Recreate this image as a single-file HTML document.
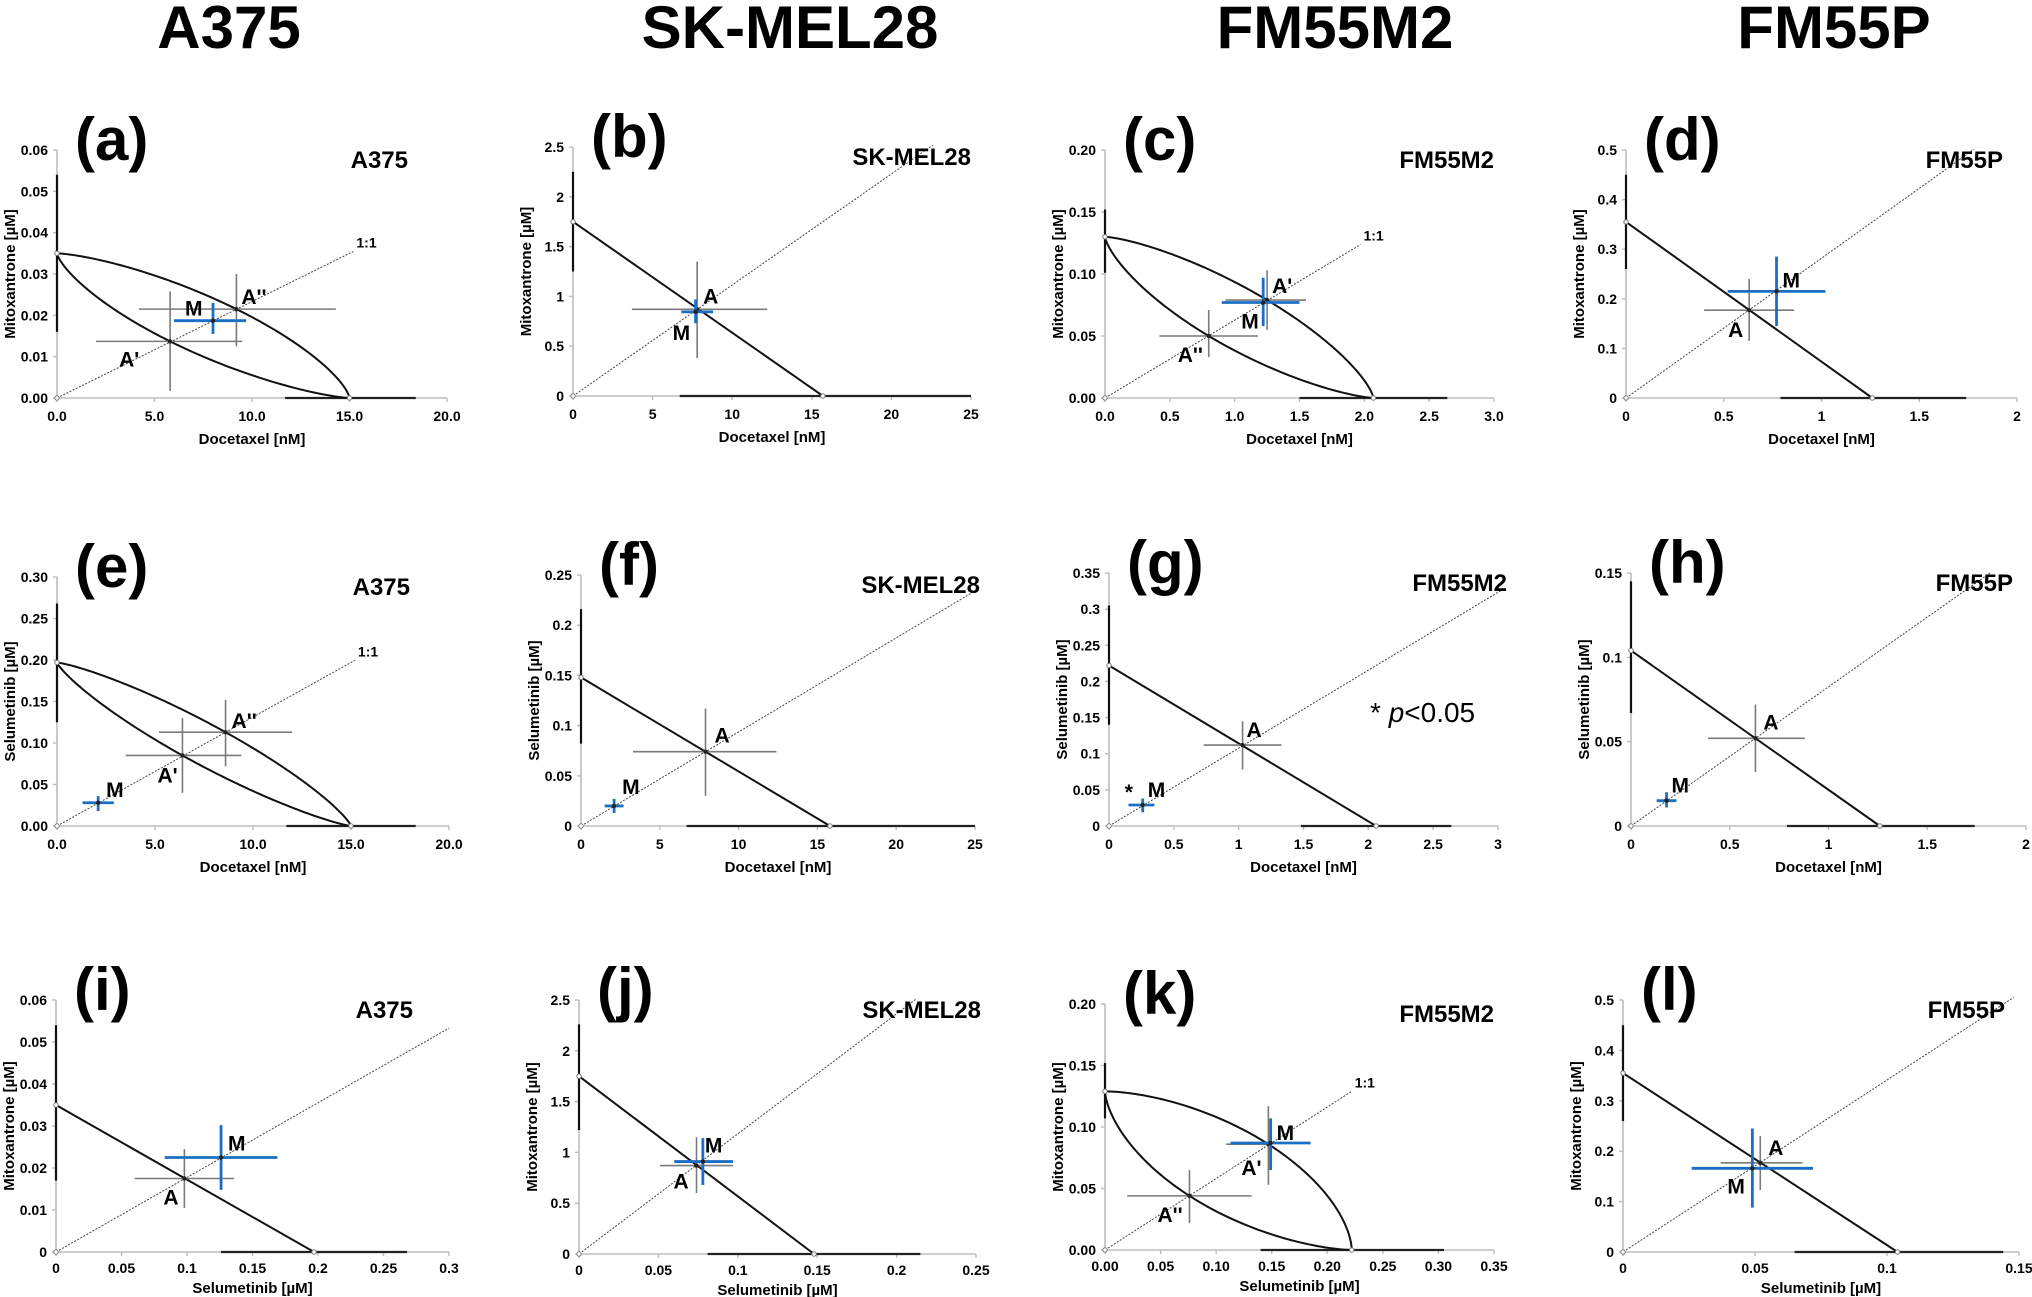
<!DOCTYPE html>
<html><head><meta charset="utf-8">
<style>
html,body{margin:0;padding:0;background:#fff;}
svg{display:block;font-family:"Liberation Sans",Arial,sans-serif;}
</style></head>
<body>
<svg id="fig" width="2032" height="1297" viewBox="0 0 2032 1297" xmlns="http://www.w3.org/2000/svg">
<rect width="2032" height="1297" fill="#fff"/>
<text x="229" y="48" font-size="60" font-weight="bold" text-anchor="middle">A375</text>
<text x="790" y="48" font-size="60" font-weight="bold" text-anchor="middle">SK-MEL28</text>
<text x="1335" y="48" font-size="60" font-weight="bold" text-anchor="middle">FM55M2</text>
<text x="1834" y="48" font-size="60" font-weight="bold" text-anchor="middle">FM55P</text>
</svg>
<script>
// ---- data ----
const panelLetters = ['a','b','c','d','e','f','g','h','i','j','k','l'];
const cellLines = ['A375','SK-MEL28','FM55M2','FM55P','A375','SK-MEL28','FM55M2','FM55P','A375','SK-MEL28','FM55M2','FM55P'];
const xTitles = ['Docetaxel [nM]','Docetaxel [nM]','Docetaxel [nM]','Docetaxel [nM]','Docetaxel [nM]','Docetaxel [nM]','Docetaxel [nM]','Docetaxel [nM]','Selumetinib [µM]','Selumetinib [µM]','Selumetinib [µM]','Selumetinib [µM]'];
const yTitles = ['Mitoxantrone [µM]','Mitoxantrone [µM]','Mitoxantrone [µM]','Mitoxantrone [µM]','Selumetinib [µM]','Selumetinib [µM]','Selumetinib [µM]','Selumetinib [µM]','Mitoxantrone [µM]','Mitoxantrone [µM]','Mitoxantrone [µM]','Mitoxantrone [µM]'];
const xTicks = [
 [0,5,10,15,20],[0,5,10,15,20,25],[0,0.5,1,1.5,2,2.5,3],[0,0.5,1,1.5,2],
 [0,5,10,15,20],[0,5,10,15,20,25],[0,0.5,1,1.5,2,2.5,3],[0,0.5,1,1.5,2],
 [0,0.05,0.1,0.15,0.2,0.25,0.3],[0,0.05,0.1,0.15,0.2,0.25],[0,0.05,0.1,0.15,0.2,0.25,0.3,0.35],[0,0.05,0.1,0.15]];
const xTickLabels = [
 ['0.0','5.0','10.0','15.0','20.0'],['0','5','10','15','20','25'],['0.0','0.5','1.0','1.5','2.0','2.5','3.0'],['0','0.5','1','1.5','2'],
 ['0.0','5.0','10.0','15.0','20.0'],['0','5','10','15','20','25'],['0','0.5','1','1.5','2','2.5','3'],['0','0.5','1','1.5','2'],
 ['0','0.05','0.1','0.15','0.2','0.25','0.3'],['0','0.05','0.1','0.15','0.2','0.25'],['0.00','0.05','0.10','0.15','0.20','0.25','0.30','0.35'],['0','0.05','0.1','0.15']];
const yTicks = [
 [0,0.01,0.02,0.03,0.04,0.05,0.06],[0,0.5,1,1.5,2,2.5],[0,0.05,0.1,0.15,0.2],[0,0.1,0.2,0.3,0.4,0.5],
 [0,0.05,0.1,0.15,0.2,0.25,0.3],[0,0.05,0.1,0.15,0.2,0.25],[0,0.05,0.1,0.15,0.2,0.25,0.3,0.35],[0,0.05,0.1,0.15],
 [0,0.01,0.02,0.03,0.04,0.05,0.06],[0,0.5,1,1.5,2,2.5],[0,0.05,0.1,0.15,0.2],[0,0.1,0.2,0.3,0.4,0.5]];
const yTickLabels = [
 ['0.00','0.01','0.02','0.03','0.04','0.05','0.06'],['0','0.5','1','1.5','2','2.5'],['0.00','0.05','0.10','0.15','0.20'],['0','0.1','0.2','0.3','0.4','0.5'],
 ['0.00','0.05','0.10','0.15','0.20','0.25','0.30'],['0','0.05','0.1','0.15','0.2','0.25'],['0','0.05','0.1','0.15','0.2','0.25','0.3','0.35'],['0','0.05','0.1','0.15'],
 ['0','0.01','0.02','0.03','0.04','0.05','0.06'],['0','0.5','1','1.5','2','2.5'],['0.00','0.05','0.10','0.15','0.20'],['0','0.1','0.2','0.3','0.4','0.5']];
const yIntercepts = [0.035,1.75,0.13,0.355,0.197,0.148,0.222,0.104,0.035,1.75,0.129,0.355];
const xIntercepts = [15,15.7,2.07,1.26,15,15.8,2.06,1.26,0.197,0.148,0.222,0.104];
const isoboleKind = ['curve','line','curve','line','curve','line','line','line','line','line','curve','line'];
const diagEndX = [15.2,22.6,1.97,1.78,15.2,24.8,3.05,1.82,0.3,0.212,0.222,0.148];
const diagLabelShown = [true,false,true,false,true,false,false,false,false,false,true,false];
const ciYLo = [0.016,1.25,0.101,0.26,0.125,0.082,0.14,0.067,0.017,1.22,0.107,0.26];
const ciYHi = [0.054,2.25,0.152,0.45,0.268,0.216,0.305,0.145,0.054,2.26,0.152,0.45];
const ciXLo = [11.7,6.7,1.5,0.79,11.7,6.7,1.48,0.79,0.126,0.081,0.14,0.065];
const ciXHi = [18.4,25,2.64,1.74,18.3,25,2.64,1.74,0.268,0.215,0.305,0.144];
const pointNames = [["A''","A'","M"],["A","M"],["A'","A''","M"],["A","M"],["A''","A'","M"],["A","M"],["A","M"],["A","M"],["A","M"],["A","M"],["A'","A''","M"],["A","M"]];
const pointX = [[9.2,5.8,8.0],[7.8,7.7],[1.25,0.8,1.22],[0.63,0.77],[8.6,6.4,2.1],[7.9,2.1],[1.03,0.26],[0.63,0.18],[0.098,0.126],[0.074,0.078],[0.147,0.076,0.149],[0.052,0.049]];
const pointY = [[0.0215,0.0137,0.0187],[0.87,0.845],[0.079,0.05,0.077],[0.177,0.215],[0.113,0.085,0.028],[0.074,0.02],[0.112,0.029],[0.052,0.015],[0.0175,0.0225],[0.87,0.91],[0.086,0.044,0.087],[0.177,0.166]];
const errXLo = [[4.2,2.0,6.0],[3.7,6.8],[0.93,0.42,0.9],[0.4,0.52],[5.2,3.5,1.3],[3.3,1.5],[0.73,0.15],[0.39,0.13],[0.06,0.083],[0.051,0.06],[0.109,0.02,0.113],[0.037,0.026]];
const errXHi = [[14.3,9.5,9.7],[12.2,8.8],[1.55,1.18,1.5],[0.86,1.02],[12.0,9.4,2.9],[12.4,2.7],[1.33,0.35],[0.88,0.23],[0.136,0.169],[0.097,0.097],[0.15,0.132,0.185],[0.068,0.072]];
const errYLo = [[0.0125,0.0017,0.0155],[0.38,0.73],[0.055,0.033,0.058],[0.115,0.145],[0.072,0.04,0.018],[0.03,0.013],[0.078,0.019],[0.032,0.011],[0.0105,0.0148],[0.6,0.68],[0.053,0.022,0.065],[0.123,0.088]];
const errYHi = [[0.030,0.0258,0.023],[1.35,0.97],[0.103,0.071,0.097],[0.24,0.285],[0.152,0.13,0.036],[0.117,0.027],[0.145,0.038],[0.072,0.02],[0.0245,0.0302],[1.15,1.14],[0.117,0.065,0.107],[0.23,0.245]];

// ---- layout (pixels, not data) ----
const boxes = [[57,447,150,398],[573,971,147,396],[1105,1494,150,398],[1626,2017,150,398],
 [57,449,577,826],[581,975,575,826],[1109,1498,573,826],[1631,2026,573,826],
 [56,449,1000,1252],[579,976,1000,1254],[1105,1494,1004,1250],[1623,2019,1000,1252]];
const tickLabelGap = [23,23,23,23,23,23,23,23,21,21,21,21];
const xTitleGap = [46,46,46,46,46,46,46,46,41,41,41,41];
const cellLabelRight = [-39,0,0,-14,-39,5,9,-13,-36,5,0,-14];
const labelOffsets = [[[5,-5],[-51,25],[-28,-5]],[[6,-6],[-23,28]],[[5,-7],[-31,26],[-22,26]],[[-21,27],[6,-4]],
 [[6,-4],[-25,27],[8,-6]],[[9,-9],[8,-12]],[[4,-8],[5,-8]],[[8,-9],[5,-8]],
 [[-21,26],[7,-7]],[[-23,23],[2,-9]],[[-27,31],[-32,26],[6,-3]],[[8,-8],[-25,25]]];

const svg = document.getElementById('fig');
const NS = 'http://www.w3.org/2000/svg';
function mk(tag, attrs, parent){
  const e = document.createElementNS(NS, tag);
  for (const k in attrs) e.setAttribute(k, attrs[k]);
  (parent||svg).appendChild(e);
  return e;
}
function solveK(rx, ry){
  let lo = 0.1, hi = 8;
  for (let i=0;i<60;i++){
    const m=(lo+hi)/2;
    const f=Math.pow(rx,m)+Math.pow(ry,m)-1;
    if (f>0) lo=m; else hi=m;
  }
  return (lo+hi)/2;
}

for (let p=0;p<12;p++){
  const [x0,x1,yTop,yBot] = boxes[p];
  const xmax = xTicks[p][xTicks[p].length-1];
  const ymax = yTicks[p][yTicks[p].length-1];
  const sx = v => x0 + v/xmax*(x1-x0);
  const sy = v => yBot - v/ymax*(yBot-yTop);
  const g = mk('g',{});
  
  

  const ya = mk('line',{x1:x0,y1:yTop,x2:x0,y2:yBot,stroke:'#bdbdbd','stroke-width':1.6},g);
  
  
  const xa = mk('line',{x1:x0,y1:yBot,x2:x1,y2:yBot,stroke:'#bdbdbd','stroke-width':1.6},g);
  
  

  xTicks[p].forEach((v,i)=>{
    mk('line',{x1:sx(v),y1:yBot,x2:sx(v),y2:yBot+4,stroke:'#bdbdbd','stroke-width':1.4},g);
    const t = mk('text',{x:sx(v),y:yBot+tickLabelGap[p],'font-size':14,'font-weight':'bold','text-anchor':'middle'},g);
    
    
    t.textContent = xTickLabels[p][i];
  });
  yTicks[p].forEach((v,i)=>{
    mk('line',{x1:x0-4,y1:sy(v),x2:x0,y2:sy(v),stroke:'#bdbdbd','stroke-width':1.4},g);
    const t = mk('text',{x:x0-9,y:sy(v)+5,'font-size':14,'font-weight':'bold','text-anchor':'end'},g);
    
    
    t.textContent = yTickLabels[p][i];
  });
  const xt = mk('text',{x:(x0+x1)/2,y:yBot+xTitleGap[p],'font-size':15,'font-weight':'bold','text-anchor':'middle'},g);
  
  
  xt.textContent = xTitles[p];
  const ymid=(yTop+yBot)/2, yx=x0-47;
  const yt = mk('text',{x:yx,y:ymid,'font-size':15,'font-weight':'bold','text-anchor':'middle',transform:`rotate(-90 ${yx} ${ymid})`,dy:5},g);
  
  
  yt.textContent = yTitles[p];

  const cy = mk('line',{x1:x0,y1:sy(ciYLo[p]),x2:x0,y2:sy(ciYHi[p]),stroke:'#111','stroke-width':2.2},g);
  
  
  const cx = mk('line',{x1:sx(ciXLo[p]),y1:yBot,x2:sx(Math.min(ciXHi[p],xmax)),y2:yBot,stroke:'#222','stroke-width':2.2},g);
  
  

  const dslope = yIntercepts[p]/xIntercepts[p];
  const dex = diagEndX[p];
  const dg = mk('line',{x1:sx(0),y1:sy(0),x2:sx(dex),y2:sy(dex*dslope),stroke:'#444','stroke-width':1,'stroke-dasharray':'2,1.5'},g);
  
  
  if (diagLabelShown[p]){
    const dl = mk('text',{x:sx(dex)+3,y:sy(dex*dslope)-4,'font-size':14,'font-weight':'bold'},g);
    
    
    dl.textContent = '1:1';
  }

  const X = xIntercepts[p], Y = yIntercepts[p];
  if (isoboleKind[p]==='line'){
    const il = mk('line',{x1:sx(0),y1:sy(Y),x2:sx(X),y2:sy(0),stroke:'#111','stroke-width':2},g);
    
    
  } else {
    [0,1].forEach(idx=>{
      const k = solveK(pointX[p][idx]/X, pointY[p][idx]/Y);
      let d='';
      for (let i=0;i<=120;i++){
        const th = i/120*Math.PI/2;
        const c = Math.max(Math.cos(th),0), s = Math.max(Math.sin(th),0);
        const vx = X*Math.pow(c,2/k), vy = Y*Math.pow(s,2/k);
        d += (i?'L':'M')+sx(vx).toFixed(2)+','+sy(vy).toFixed(2);
      }
      const cp = mk('path',{d:d,fill:'none',stroke:'#111','stroke-width':2},g);
      
      
    });
  }
  [[0,0],[0,Y],[X,0]].forEach(([a,b])=>{
    mk('circle',{cx:sx(a),cy:sy(b),r:2.2,fill:'#fff',stroke:'#777','stroke-width':1},g);
  });

  pointNames[p].forEach((nm,i)=>{
    const blue = nm==='M';
    const col = blue?'#1a6fc4':'#7a7a7a';
    const w = blue?2.8:1.6;
    const px=sx(pointX[p][i]), py=sy(pointY[p][i]);
    const eh = mk('line',{x1:sx(errXLo[p][i]),y1:py,x2:sx(errXHi[p][i]),y2:py,stroke:col,'stroke-width':w},g);
    
    
    const ev = mk('line',{x1:px,y1:sy(errYLo[p][i]),x2:px,y2:sy(errYHi[p][i]),stroke:col,'stroke-width':w},g);
    
    
    const pt = mk('circle',{cx:px,cy:py,r:2.2,fill:'#222'},g);
    
    
    const [dx,dy] = labelOffsets[p][i];
    const lb = mk('text',{x:px+dx,y:py+dy,'font-size':21,'font-weight':'bold'},g);
    
    
    lb.textContent = nm;
  });

  const pl = mk('text',{x:x0+18,y:yTop+10,'font-size':60,'font-weight':'bold'},g);
  
  
  pl.textContent = '('+panelLetters[p]+')';
  const cl = mk('text',{x:x1+cellLabelRight[p],y:yTop+18,'font-size':24,'font-weight':'bold','text-anchor':'end'},g);
  
  
  cl.textContent = cellLines[p];

  if (panelLetters[p]==='g'){
    const star = mk('text',{x:sx(pointX[p][1])-18,y:sy(pointY[p][1])-6,'font-size':21,'font-weight':'bold'},g);
    
    
    star.textContent='*';
    const pv = mk('text',{x:1370,y:722,'font-size':28},g);
    
    
    pv.innerHTML = '* <tspan font-style="italic">p</tspan>&lt;0.05';
  }
}
</script>
</body></html>
